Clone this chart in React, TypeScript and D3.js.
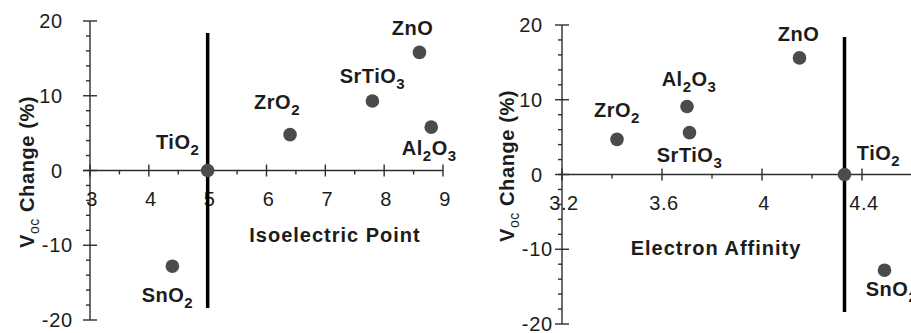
import React, { useEffect, useRef } from 'react';
import * as d3 from 'd3';

const W = 911;
const H = 333;

// left panel: isoelectric point
const iepNames = ['TiO2', 'ZrO2', 'SrTiO3', 'ZnO', 'Al2O3', 'SnO2'];
const iepValues = [5.0, 6.4, 7.8, 8.6, 8.8, 4.4];
const iepVoc = [0, 4.8, 9.3, 15.8, 5.8, -12.8];
const iepTicks = [3, 4, 5, 6, 7, 8, 9];
const iepMinorTicks = [3.5, 4.5, 5.5, 6.5, 7.5, 8.5];
const iepRefValue = 5.0;

// right panel: electron affinity
const eaNames = ['TiO2', 'ZrO2', 'Al2O3', 'SrTiO3', 'ZnO', 'SnO2'];
const eaValues = [4.33, 3.42, 3.70, 3.71, 4.15, 4.49];
const eaVoc = [0, 4.7, 9.1, 5.6, 15.6, -12.8];
const eaTicks = [3.2, 3.6, 4.0, 4.4];
const eaMinorTicks = [3.4, 3.8, 4.2, 4.6];
const eaRefValue = 4.33;

// shared y axis
const vocTicks = [-20, -10, 0, 10, 20];
const vocMinorTicks = [-18, -16, -14, -12, -8, -6, -4, -2, 2, 4, 6, 8, 12, 14, 16, 18];
const refLineSpan = [18.4, -18.4];

const TEXT = '#1c1c1c';
const AXIS = '#2e2e2e';
const DOT = '#4b4b4b';
const FONT = '"Liberation Sans", Arial, sans-serif';

// chemical formula: digits as subscripts
function formula(text, name, subSize, shift) {
  const parts = name.split(/(\d+)/).filter(p => p !== '');
  let down = false;
  parts.forEach(p => {
    const isSub = /^\d+$/.test(p);
    const t = text.append('tspan').text(p);
    if (isSub) {
      t.attr('font-size', subSize).attr('dy', shift);
      down = true;
    } else if (down) {
      t.attr('dy', -shift);
      down = false;
    }
  });
}

function drawPanel(svg, cfg) {
  const g = svg.append('g');

  const x = d3.scaleLinear().domain(cfg.xDomain).range(cfg.xRange);
  const y = d3.scaleLinear().domain([-20, 20]).range(cfg.yRange);
  const x0 = x(cfg.xDomain[0]);
  const y0 = y(0);

  // y axis
  g.append('line')
    .attr('x1', x0).attr('x2', x0)
    .attr('y1', y(20)).attr('y2', y(-20))
    .attr('stroke', AXIS).attr('stroke-width', 1.4);
  g.selectAll('.ymaj').data(vocTicks).enter().append('line')
    .attr('x1', x0 - 7).attr('x2', x0 + 7)
    .attr('y1', d => y(d)).attr('y2', d => y(d))
    .attr('stroke', AXIS).attr('stroke-width', 1.4);
  g.selectAll('.ymin').data(vocMinorTicks).enter().append('line')
    .attr('x1', x0 - 4).attr('x2', x0)
    .attr('y1', d => y(d)).attr('y2', d => y(d))
    .attr('stroke', AXIS).attr('stroke-width', 1.4);
  g.selectAll('.ylab').data(vocTicks).enter().append('text')
    .attr('x', d => x0 - (d < 0 ? cfg.negGap : cfg.posGap))
    .attr('y', d => y(d) + 7)
    .attr('text-anchor', 'end')
    .attr('font-family', FONT).attr('font-size', 20)
    .attr('letter-spacing', 0.8)
    .attr('fill', TEXT)
    .text(d => d);

  // x axis
  g.append('line')
    .attr('x1', cfg.xAxisStart).attr('x2', cfg.xAxisEnd)
    .attr('y1', y0).attr('y2', y0)
    .attr('stroke', AXIS).attr('stroke-width', 1.4);
  g.selectAll('.xmaj').data(cfg.xTicks).enter().append('line')
    .attr('x1', d => x(d)).attr('x2', d => x(d))
    .attr('y1', y0 - 6).attr('y2', y0 + 6)
    .attr('stroke', AXIS).attr('stroke-width', 1.4);
  g.selectAll('.xmin').data(cfg.xMinor).enter().append('line')
    .attr('x1', d => x(d)).attr('x2', d => x(d))
    .attr('y1', y0).attr('y2', y0 + 4)
    .attr('stroke', AXIS).attr('stroke-width', 1.4);
  g.selectAll('.xlab').data(cfg.xTicks).enter().append('text')
    .attr('x', d => x(d) + 2)
    .attr('y', y0 + 35)
    .attr('text-anchor', 'middle')
    .attr('font-family', FONT).attr('font-size', 20)
    .attr('letter-spacing', 0.5)
    .attr('fill', TEXT)
    .text(d => cfg.fmt(d));

  // axis titles
  g.append('text')
    .attr('x', cfg.xTitlePos[0]).attr('y', cfg.xTitlePos[1])
    .attr('text-anchor', 'middle')
    .attr('font-family', FONT).attr('font-size', 20).attr('font-weight', 'bold')
    .attr('letter-spacing', 1)
    .attr('fill', TEXT)
    .text(cfg.xTitle);

  const yt = g.append('text')
    .attr('transform', `translate(${cfg.yTitlePos[0]},${cfg.yTitlePos[1]}) rotate(-90)`)
    .attr('text-anchor', 'middle')
    .attr('font-family', FONT).attr('font-size', 20).attr('font-weight', 'bold')
    .attr('letter-spacing', 0.6)
    .attr('fill', TEXT);
  yt.append('tspan').text('V');
  yt.append('tspan').text('oc').attr('font-size', 14).attr('font-weight', 'normal').attr('dy', 5);
  yt.append('tspan').text(' Change (%)').attr('dy', -5);

  // reference line
  g.append('line')
    .attr('x1', x(cfg.refValue)).attr('x2', x(cfg.refValue))
    .attr('y1', y(refLineSpan[0])).attr('y2', y(refLineSpan[1]))
    .attr('stroke', '#000').attr('stroke-width', 3.5);

  // points
  const pts = cfg.names.map((n, i) => ({ name: n, x: cfg.xs[i], v: cfg.ys[i], off: cfg.offsets[i] }));
  g.selectAll('.dot').data(pts).enter().append('circle')
    .attr('cx', d => x(d.x)).attr('cy', d => y(d.v))
    .attr('r', 6.8)
    .attr('fill', DOT);

  pts.forEach(d => {
    const t = g.append('text')
      .attr('x', x(d.x) + d.off[0]).attr('y', y(d.v) + d.off[1])
      .attr('text-anchor', 'middle')
      .attr('font-family', FONT).attr('font-size', 20).attr('font-weight', 'bold')
      .attr('letter-spacing', 0.5)
      .attr('fill', TEXT);
    formula(t, d.name, 15, 6);
  });
}

// label offsets from each point, in px (same order as the names)
const iepOffsets = [[-30, -22], [-13, -26], [0, -18], [-7, -17], [-2, 28], [-5, 36]];
const eaOffsets = [[34, -15], [0, -22], [2, -20], [0, 29], [-1, -17], [7, 26]];

export default function App() {
  const ref = useRef(null);

  useEffect(() => {
    const svg = d3.select(ref.current);
    svg.selectAll('*').remove();

    drawPanel(svg, {
      names: iepNames, xs: iepValues, ys: iepVoc, offsets: iepOffsets,
      xDomain: [3, 9], xRange: [90, 443], yRange: [320, 21],
      xTicks: iepTicks, xMinor: iepMinorTicks, fmt: d => String(d),
      xAxisStart: 83, xAxisEnd: 443,
      posGap: 27, negGap: 17,
      refValue: iepRefValue,
      xTitle: 'Isoelectric Point', xTitlePos: [335, 242],
      yTitlePos: [34, 172],
    });

    drawPanel(svg, {
      names: eaNames, xs: eaValues, ys: eaVoc, offsets: eaOffsets,
      xDomain: [3.2, 4.6], xRange: [562, 912], yRange: [324, 25],
      xTicks: eaTicks, xMinor: eaMinorTicks, fmt: d => d3.format('.1~f')(d),
      xAxisStart: 558, xAxisEnd: 911,
      posGap: 19, negGap: 9,
      refValue: eaRefValue,
      xTitle: 'Electron Affinity', xTitlePos: [716, 255],
      yTitlePos: [514, 166],
    });
  }, []);

  return (
    <svg ref={ref} width={W} height={H}
         style={{ position: 'absolute', left: 0, top: 0, background: '#fff' }} />
  );
}
